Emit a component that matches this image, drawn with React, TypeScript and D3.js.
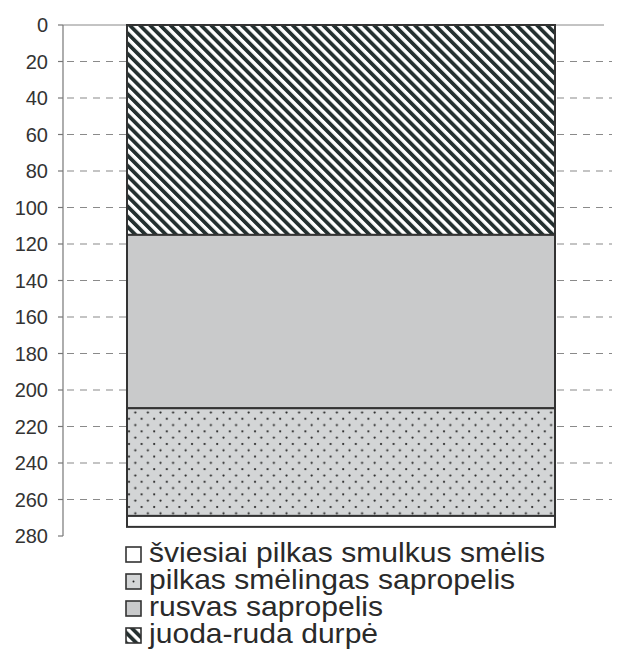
import React from 'react';
import * as d3 from 'd3';

// soil profile layers, depth in cm
const layerNames = ['juoda-ruda durpė', 'rusvas sapropelis', 'pilkas smėlingas sapropelis', 'šviesiai pilkas smulkus smėlis'];
const layerTop = [0, 115, 210, 269];
const layerBottom = [115, 210, 269, 275];
const layerFill = ['url(#hatch)', '#c9cacb', 'url(#dots)', '#ffffff'];
const depthTicks = [0, 20, 40, 60, 80, 100, 120, 140, 160, 180, 200, 220, 240, 260, 280];

const W = 618;
const H = 664;
const axisX = 63;
const colLeft = 127;
const colRight = 555;
const gridRight = 612;

const App: React.FC = () => {
  const y = d3.scaleLinear().domain([0, 280]).range([25, 536]);
  const gridTicks = depthTicks.slice(1, -1);
  const legendOrder = [3, 2, 1, 0];

  return (
    <div style={{ position: 'absolute', left: 0, top: 0 }}>
      <svg width={W} height={H} style={{ display: 'block', background: '#fff' }} fontFamily="'Liberation Sans', Arial, sans-serif">
        <defs>
          <pattern id="hatch" patternUnits="userSpaceOnUse" width={7.2} height={7.2} patternTransform="rotate(-45)">
            <rect width={7.2} height={7.2} fill="#fff" />
            <line x1={1.8} y1={0} x2={1.8} y2={7.2} stroke="#243030" strokeWidth={3.9} />
          </pattern>
          <pattern id="dots" patternUnits="userSpaceOnUse" width={12.6} height={12.6}>
            <rect width={12.6} height={12.6} fill="#d3d5d6" />
            <circle cx={3} cy={3} r={1.1} fill="#222" />
            <circle cx={9.3} cy={9.3} r={1.1} fill="#222" />
          </pattern>
        </defs>

        {/* top frame line */}
        <line x1={axisX} x2={gridRight - 8} y1={y(0)} y2={y(0)} stroke="#888" strokeWidth={1} />

        {/* dashed gridlines on both sides of the column */}
        {gridTicks.map(t => (
          <g key={t}>
            <line x1={axisX + 4} x2={colLeft} y1={y(t)} y2={y(t)} stroke="#8a8a8a" strokeWidth={1.2} strokeDasharray="7,6" />
            <line x1={colRight + 2} x2={gridRight} y1={y(t)} y2={y(t)} stroke="#8a8a8a" strokeWidth={1.2} strokeDasharray="7,6" />
          </g>
        ))}

        {/* axis */}
        <line x1={axisX} x2={axisX} y1={y(0)} y2={y(280)} stroke="#777" strokeWidth={1.2} />
        {depthTicks.map(t => (
          <g key={t}>
            <line x1={axisX - 5} x2={axisX} y1={y(t)} y2={y(t)} stroke="#777" strokeWidth={1.2} />
            <text x={48} y={y(t)} dy="0.36em" textAnchor="end" fontSize={20} fill="#333">{t}</text>
          </g>
        ))}

        {/* layers */}
        {layerNames.map((name, i) => (
          <rect key={name} x={colLeft} width={colRight - colLeft} y={y(layerTop[i])}
            height={y(layerBottom[i]) - y(layerTop[i])} fill={layerFill[i]} stroke="#333" strokeWidth={2} />
        ))}

        {/* legend */}
        {legendOrder.map((li, k) => {
          const base = 562 + k * 27;
          return (
            <g key={li}>
              <rect x={126} y={base - 15} width={15} height={15}
                fill={li === 0 ? 'url(#hatch)' : li === 1 ? '#c9cacb' : li === 2 ? '#d3d5d6' : '#fff'}
                stroke="#333" strokeWidth={1.6} />
              {li === 2 && <circle cx={133.5} cy={base - 7.5} r={1} fill="#222" />}
              <text transform={`translate(149,${base}) scale(1.075,1)`} fontSize={28} fill="#2a2a2a">{layerNames[li]}</text>
            </g>
          );
        })}
      </svg>
    </div>
  );
};

export default App;
